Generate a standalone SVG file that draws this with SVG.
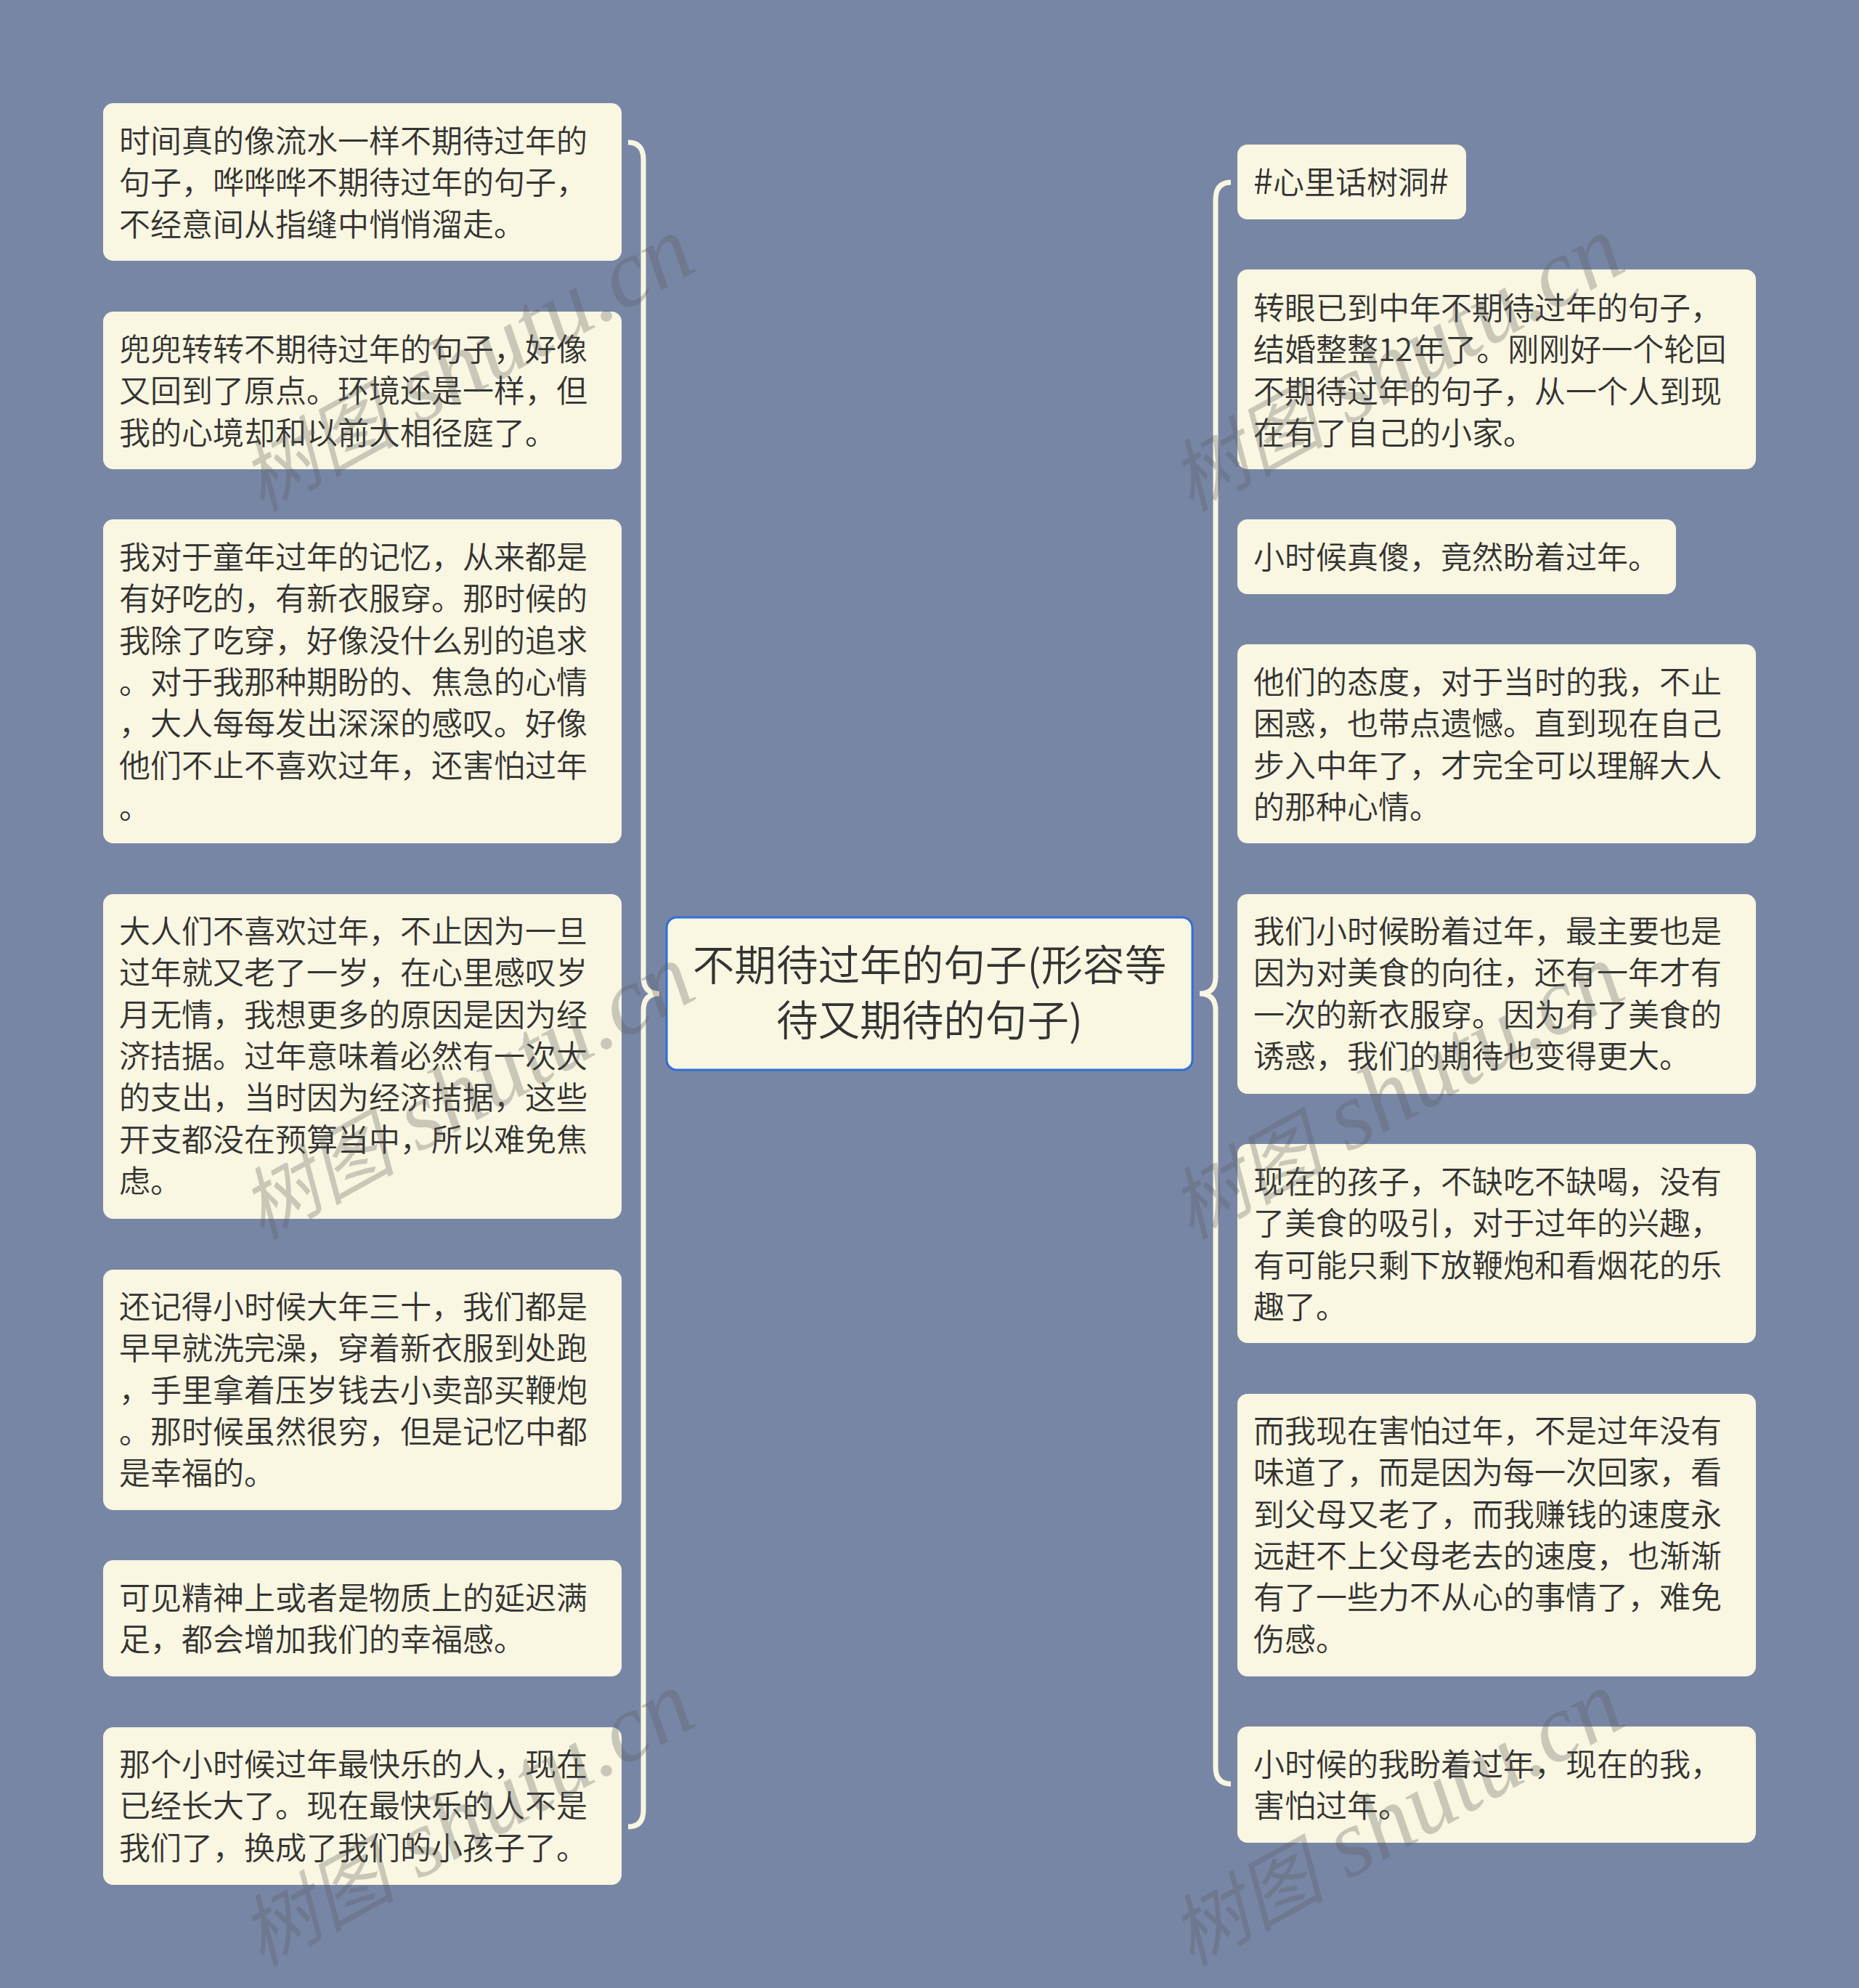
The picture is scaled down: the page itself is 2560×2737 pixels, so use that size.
<svg xmlns="http://www.w3.org/2000/svg" width="2560" height="2737" viewBox="0 0 2560 2737">
<style>
.n{fill:#f9f6e1}
.t{font-family:"Noto Sans CJK SC","Noto Sans",sans-serif;font-size:43px;fill:#333;font-weight:350}
.h{font-size:49px}
.c{font-family:"Noto Sans CJK SC","Noto Sans",sans-serif;font-size:57.6px;fill:#333;font-weight:350;text-anchor:middle}
.l{fill:none;stroke:#f9f6e1;stroke-width:7}
.w{font-family:"Liberation Serif","Noto Sans CJK SC",serif;font-size:107px;font-style:italic;fill:#5a5a5a;fill-opacity:.3}
.w tspan{font-size:132px}
</style>
<rect width="2560" height="2737" fill="#7886a6"/>
<g id="connectors">
<path class="l" d="M865,196Q886,196 886,220V1345Q886,1368 908,1368Q886,1368 886,1391V2492Q886,2515 865,2515"/>
<path class="l" d="M1695,251Q1674,251 1674,275V1345Q1674,1368 1652,1368Q1674,1368 1674,1391V2433Q1674,2456 1695,2456"/>
</g>
<g id="root"><rect x="918" y="1263" width="724" height="210" rx="14" fill="#f9f6e1" stroke="#2f6fd6" stroke-width="3"/>
<text class="c" x="1280" y="1350">不期待过年的句子(形容等</text><text class="c" x="1280" y="1426">待又期待的句子)</text></g>
<g id="l1"><rect class="n" x="142" y="142" width="714" height="217" rx="14"/><text class="t" x="164" y="210">时间真的像流水一样不期待过年的</text><text class="t" x="164" y="267">句子，哗哗哗不期待过年的句子，</text><text class="t" x="164" y="325">不经意间从指缝中悄悄溜走。</text></g>
<g id="l2"><rect class="n" x="142" y="429" width="714" height="217" rx="14"/><text class="t" x="164" y="497">兜兜转转不期待过年的句子，好像</text><text class="t" x="164" y="554">又回到了原点。环境还是一样，但</text><text class="t" x="164" y="612">我的心境却和以前大相径庭了。</text></g>
<g id="l3"><rect class="n" x="142" y="715" width="714" height="446" rx="14"/><text class="t" x="164" y="783">我对于童年过年的记忆，从来都是</text><text class="t" x="164" y="840">有好吃的，有新衣服穿。那时候的</text><text class="t" x="164" y="898">我除了吃穿，好像没什么别的追求</text><text class="t" x="164" y="955">。对于我那种期盼的、焦急的心情</text><text class="t" x="164" y="1012">，大人每每发出深深的感叹。好像</text><text class="t" x="164" y="1070">他们不止不喜欢过年，还害怕过年</text><text class="t" x="164" y="1127">。</text></g>
<g id="l4"><rect class="n" x="142" y="1231" width="714" height="447" rx="14"/><text class="t" x="164" y="1298">大人们不喜欢过年，不止因为一旦</text><text class="t" x="164" y="1355">过年就又老了一岁，在心里感叹岁</text><text class="t" x="164" y="1413">月无情，我想更多的原因是因为经</text><text class="t" x="164" y="1470">济拮据。过年意味着必然有一次大</text><text class="t" x="164" y="1527">的支出，当时因为经济拮据，这些</text><text class="t" x="164" y="1585">开支都没在预算当中，所以难免焦</text><text class="t" x="164" y="1642">虑。</text></g>
<g id="l5"><rect class="n" x="142" y="1748" width="714" height="331" rx="14"/><text class="t" x="164" y="1815">还记得小时候大年三十，我们都是</text><text class="t" x="164" y="1872">早早就洗完澡，穿着新衣服到处跑</text><text class="t" x="164" y="1930">，手里拿着压岁钱去小卖部买鞭炮</text><text class="t" x="164" y="1987">。那时候虽然很穷，但是记忆中都</text><text class="t" x="164" y="2044">是幸福的。</text></g>
<g id="l6"><rect class="n" x="142" y="2148" width="714" height="160" rx="14"/><text class="t" x="164" y="2216">可见精神上或者是物质上的延迟满</text><text class="t" x="164" y="2273">足，都会增加我们的幸福感。</text></g>
<g id="l7"><rect class="n" x="142" y="2378" width="714" height="217" rx="14"/><text class="t" x="164" y="2445">那个小时候过年最快乐的人，现在</text><text class="t" x="164" y="2502">已经长大了。现在最快乐的人不是</text><text class="t" x="164" y="2560">我们了，换成了我们的小孩子了。</text></g>
<g id="r1"><rect class="n" x="1704" y="199" width="315" height="103" rx="14"/><text class="t" x="1726" y="267"><tspan class="h">#</tspan>心里话树洞<tspan class="h">#</tspan></text></g>
<g id="r2"><rect class="n" x="1704" y="371" width="714" height="275" rx="14"/><text class="t" x="1726" y="440">转眼已到中年不期待过年的句子，</text><text class="t" x="1726" y="497">结婚整整12<tspan dx="2">年了。刚刚好一个轮回</tspan></text><text class="t" x="1726" y="555">不期待过年的句子，从一个人到现</text><text class="t" x="1726" y="612">在有了自己的小家。</text></g>
<g id="r3"><rect class="n" x="1704" y="715" width="604" height="103" rx="14"/><text class="t" x="1726" y="783">小时候真傻，竟然盼着过年。</text></g>
<g id="r4"><rect class="n" x="1704" y="887" width="714" height="274" rx="14"/><text class="t" x="1726" y="955">他们的态度，对于当时的我，不止</text><text class="t" x="1726" y="1012">困惑，也带点遗憾。直到现在自己</text><text class="t" x="1726" y="1070">步入中年了，才完全可以理解大人</text><text class="t" x="1726" y="1127">的那种心情。</text></g>
<g id="r5"><rect class="n" x="1704" y="1231" width="714" height="275" rx="14"/><text class="t" x="1726" y="1298">我们小时候盼着过年，最主要也是</text><text class="t" x="1726" y="1355">因为对美食的向往，还有一年才有</text><text class="t" x="1726" y="1413">一次的新衣服穿。因为有了美食的</text><text class="t" x="1726" y="1470">诱惑，我们的期待也变得更大。</text></g>
<g id="r6"><rect class="n" x="1704" y="1575" width="714" height="274" rx="14"/><text class="t" x="1726" y="1643">现在的孩子，不缺吃不缺喝，没有</text><text class="t" x="1726" y="1700">了美食的吸引，对于过年的兴趣，</text><text class="t" x="1726" y="1758">有可能只剩下放鞭炮和看烟花的乐</text><text class="t" x="1726" y="1815">趣了。</text></g>
<g id="r7"><rect class="n" x="1704" y="1919" width="714" height="389" rx="14"/><text class="t" x="1726" y="1986">而我现在害怕过年，不是过年没有</text><text class="t" x="1726" y="2043">味道了，而是因为每一次回家，看</text><text class="t" x="1726" y="2101">到父母又老了，而我赚钱的速度永</text><text class="t" x="1726" y="2158">远赶不上父母老去的速度，也渐渐</text><text class="t" x="1726" y="2215">有了一些力不从心的事情了，难免</text><text class="t" x="1726" y="2273">伤感。</text></g>
<g id="r8"><rect class="n" x="1704" y="2377" width="714" height="160" rx="14"/><text class="t" x="1726" y="2445">小时候的我盼着过年，现在的我，</text><text class="t" x="1726" y="2502">害怕过年。</text></g>
<g id="watermarks">
<text class="w" transform="translate(360,705) rotate(-29)">树图<tspan> shutu.cn</tspan></text>
<text class="w" transform="translate(360,1707) rotate(-29)">树图<tspan> shutu.cn</tspan></text>
<text class="w" transform="translate(360,2708) rotate(-29)">树图<tspan> shutu.cn</tspan></text>
<text class="w" transform="translate(1640,705) rotate(-29)">树图<tspan> shutu.cn</tspan></text>
<text class="w" transform="translate(1640,1707) rotate(-29)">树图<tspan> shutu.cn</tspan></text>
<text class="w" transform="translate(1640,2708) rotate(-29)">树图<tspan> shutu.cn</tspan></text>
</g>
</svg>
